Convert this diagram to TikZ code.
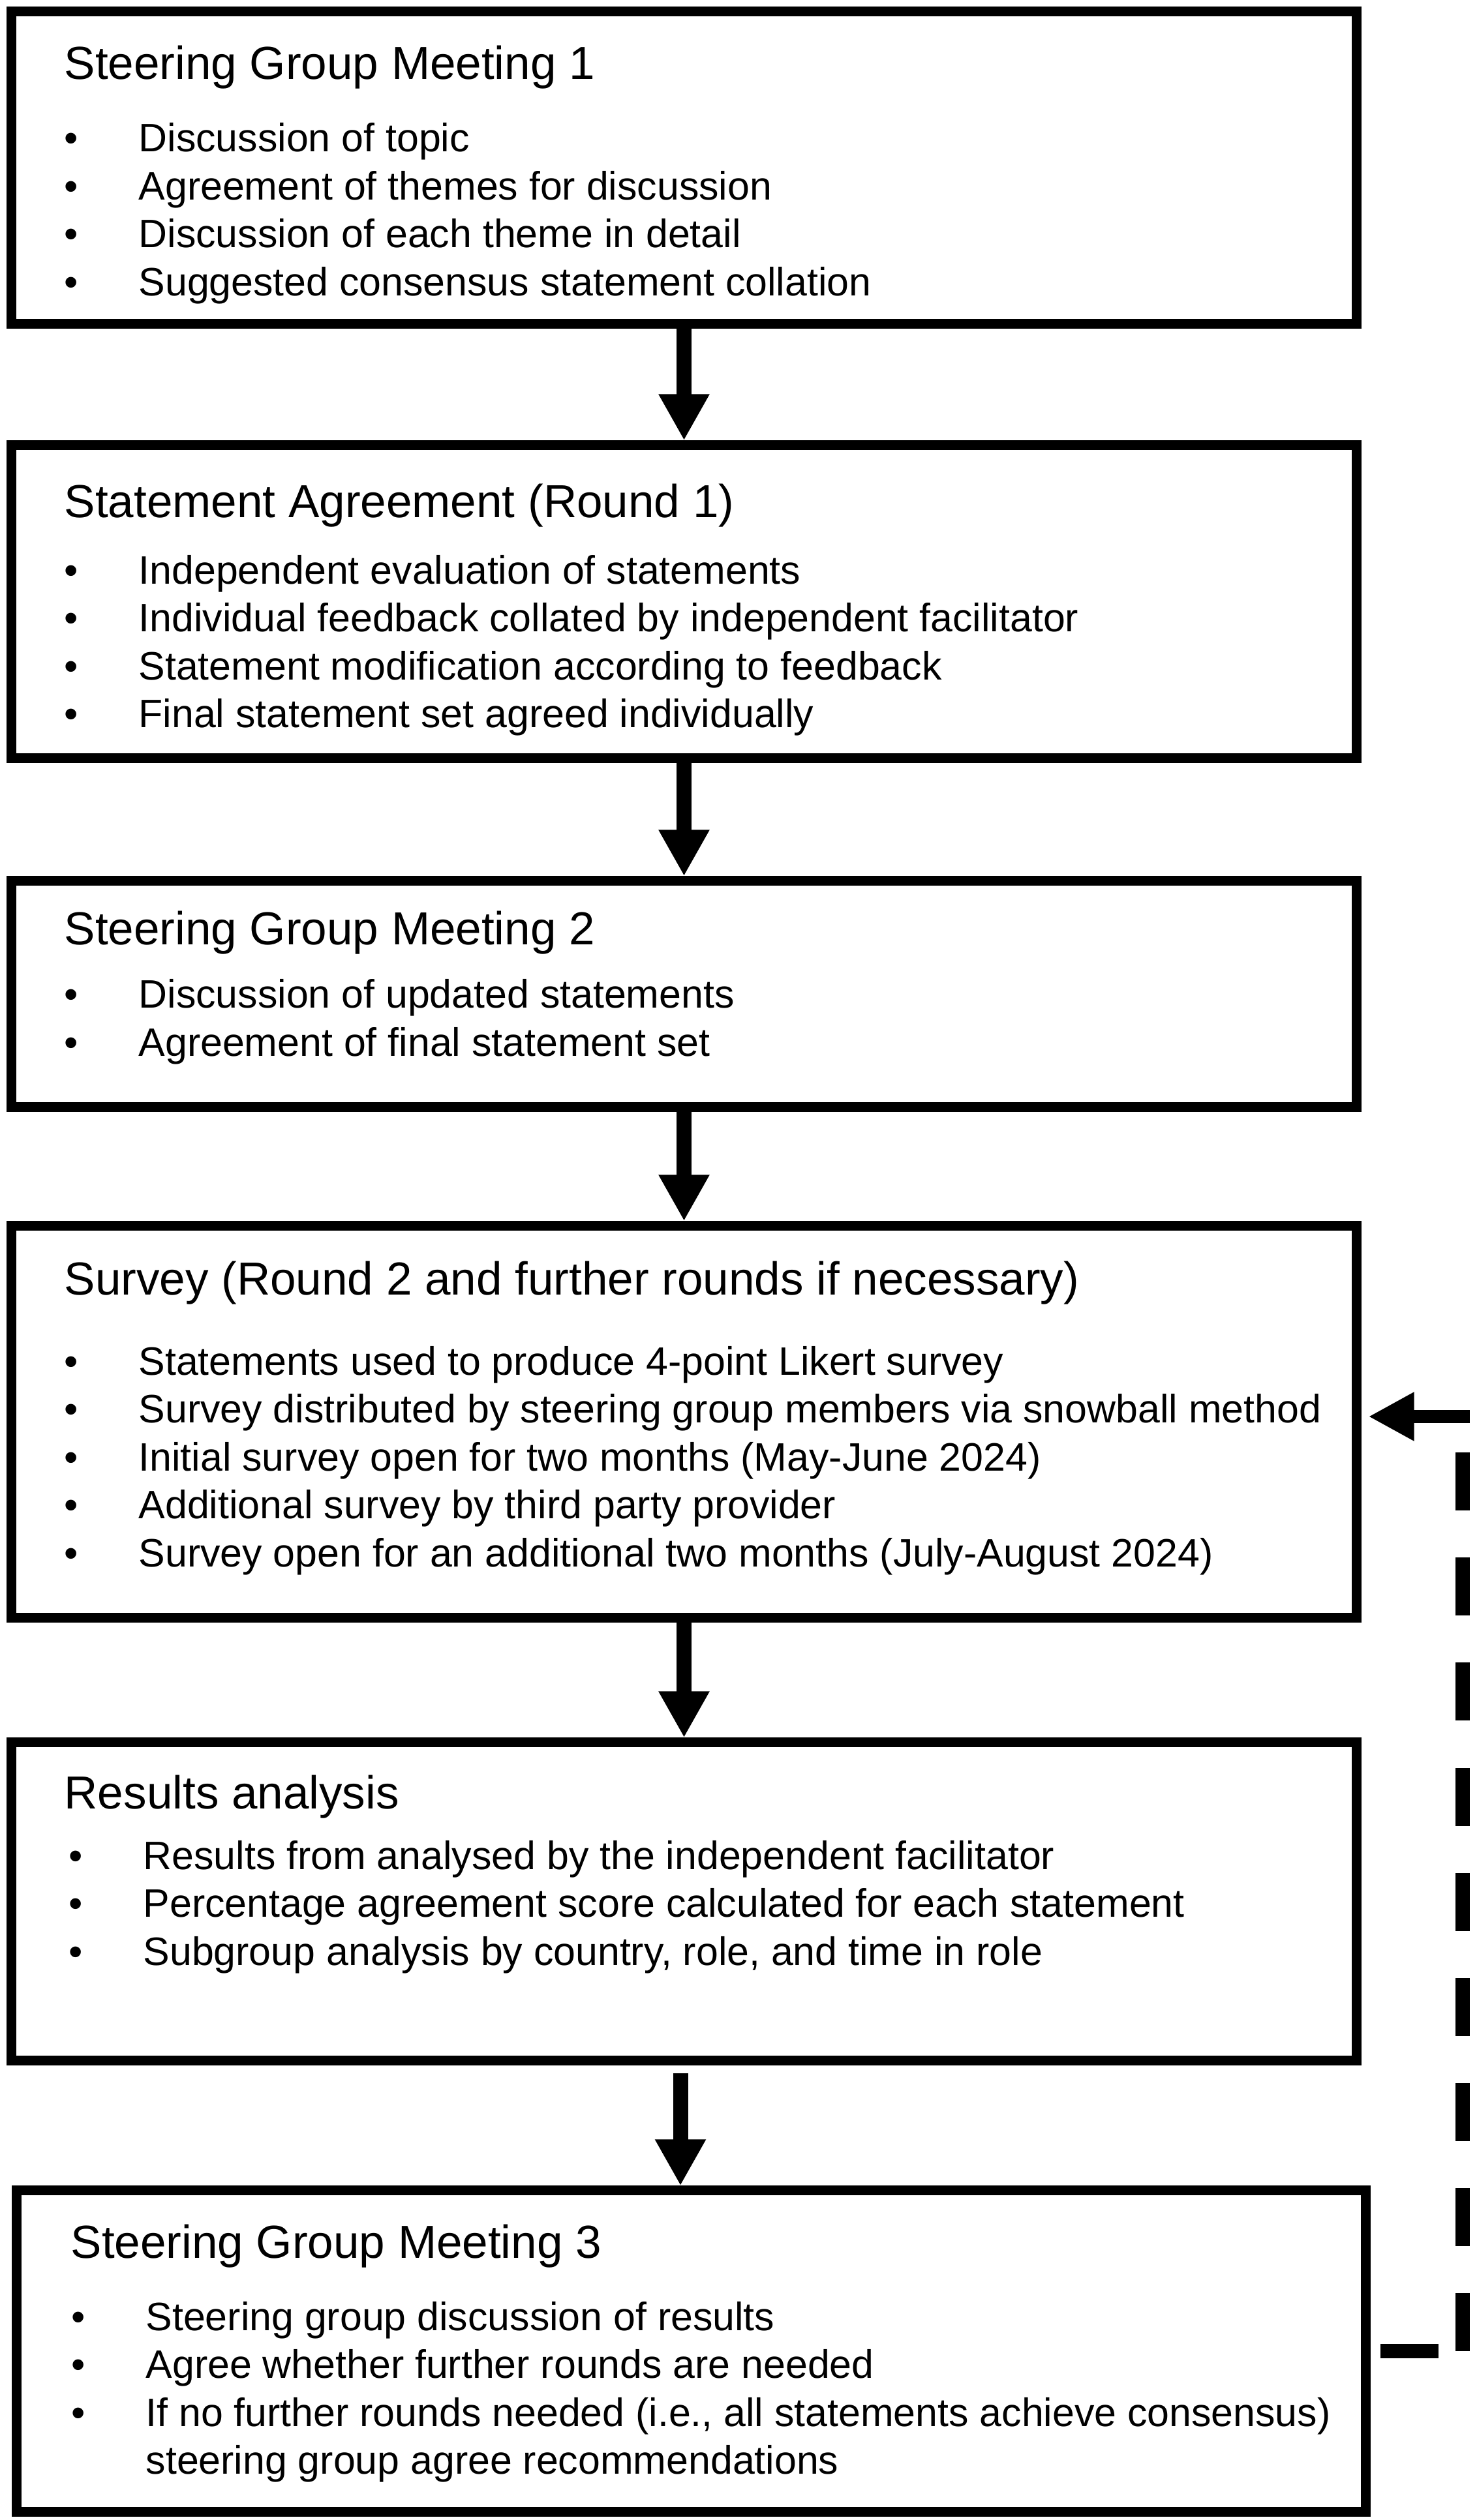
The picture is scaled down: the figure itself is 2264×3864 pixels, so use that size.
\documentclass[tikz,border=0pt]{standalone}
\usepackage{fontspec}
\setmainfont{Liberation Sans}
\usetikzlibrary{arrows.meta,positioning}

\newcommand{\ttl}{\fontsize{20.2pt}{24pt}\selectfont}
\newcommand{\itm}{\fontsize{17.3pt}{20.9pt}\selectfont}
\newcommand{\bul}{\llap{\makebox[1.14cm][l]{•}}}

\begin{document}
\begin{tikzpicture}[x=0.01cm,y=-0.01cm]
  % Styles
  \tikzstyle{stagebox}=[draw,line width=0.15cm,rectangle,inner sep=0pt]
  \tikzstyle{title text}=[anchor=base west,inner sep=0pt,font=\ttl]
  \tikzstyle{item text}=[anchor=base west,inner sep=0pt,font=\itm]
  \tikzstyle{flow arrow}=[line width=0.23cm,-{Triangle[width=0.73cm,length=0.71cm]}]
  \tikzstyle{loop line}=[line width=0.215cm,dash pattern=on 0.89cm off 0.72cm]
  \tikzstyle{loop arrow}=[line width=0.2cm,-{Triangle[width=0.7cm,length=0.7cm]}]

  % Page
  \fill[white] (0,0) rectangle (2264,3864);
  \useasboundingbox (0,0) rectangle (2264,3864);

  % Boxes
  \node[stagebox,minimum width=20.61cm,minimum height=4.795cm] (sgone) at (1048.5,257) {};
  \node[stagebox,minimum width=20.61cm,minimum height=4.79cm] (agree) at (1048.5,922.5) {};
  \node[stagebox,minimum width=20.61cm,minimum height=3.46cm] (sgtwo) at (1048.5,1524) {};
  \node[stagebox,minimum width=20.61cm,minimum height=6cm] (survey) at (1048.5,2180) {};
  \node[stagebox,minimum width=20.61cm,minimum height=4.87cm] (results) at (1048.5,2915.5) {};
  \node[stagebox,minimum width=20.67cm,minimum height=4.92cm] (sgthree) at (1059.5,3605) {};

  % Steering Group Meeting 1
  \node[title text] (sgonet) at (98,122) {Steering Group Meeting 1};
  \node[item text] (sgonea) at (212,233) {\bul Discussion of topic};
  \node[item text] (sgoneb) at (212,306.5) {\bul Agreement of themes for discussion};
  \node[item text] (sgonec) at (212,380) {\bul Discussion of each theme in detail};
  \node[item text] (sgoned) at (212,453.5) {\bul Suggested consensus statement collation};

  % Statement Agreement
  \node[title text] (agreet) at (98,793) {Statement Agreement (Round 1)};
  \node[item text] (agreea) at (212,895) {\bul Independent evaluation of statements};
  \node[item text] (agreeb) at (212,968.5) {\bul Individual feedback collated by independent facilitator};
  \node[item text] (agreec) at (212,1042) {\bul Statement modification according to feedback};
  \node[item text] (agreed) at (212,1115.5) {\bul Final statement set agreed individually};

  % Steering Group Meeting 2
  \node[title text] (sgtwot) at (98,1448) {Steering Group Meeting 2};
  \node[item text] (sgtwoa) at (212,1545) {\bul Discussion of updated statements};
  \node[item text] (sgtwob) at (212,1619) {\bul Agreement of final statement set};

  % Survey
  \node[title text] (surveyt) at (98,1985) {Survey (Round 2 and further rounds if necessary)};
  \node[item text] (surveya) at (212,2108) {\bul Statements used to produce 4-point Likert survey};
  \node[item text] (surveyb) at (212,2181.5) {\bul Survey distributed by steering group members via snowball method};
  \node[item text] (surveyc) at (212,2255) {\bul Initial survey open for two months (May-June 2024)};
  \node[item text] (surveyd) at (212,2328.5) {\bul Additional survey by third party provider};
  \node[item text] (surveye) at (212,2402) {\bul Survey open for an additional two months (July-August 2024)};

  % Results analysis
  \node[title text] (resultst) at (98,2773) {Results analysis};
  \node[item text] (resultsa) at (219,2866) {\bul Results from analysed by the independent facilitator};
  \node[item text] (resultsb) at (219,2939.5) {\bul Percentage agreement score calculated for each statement};
  \node[item text] (resultsc) at (219,3013) {\bul Subgroup analysis by country, role, and time in role};

  % Steering Group Meeting 3
  \node[title text] (sgthreet) at (108,3462) {Steering Group Meeting 3};
  \node[item text] (sgthreea) at (223,3573) {\bul Steering group discussion of results};
  \node[item text] (sgthreeb) at (223,3646.5) {\bul Agree whether further rounds are needed};
  \node[item text] (sgthreec) at (223,3720) {\bul If no further rounds needed (i.e., all statements achieve consensus)};
  \node[item text] (sgthreed) at (223,3793.5) {steering group agree recommendations};

  % Arrows
  \draw[flow arrow] (sgone) -- (agree);
  \draw[flow arrow] (agree) -- (sgtwo);
  \draw[flow arrow] (sgtwo) -- (survey);
  \draw[flow arrow] (survey) -- (results);
  \draw[flow arrow] ([xshift=-0.055cm,yshift=-0.12cm]results.south) -- ([xshift=-0.055cm]results.south |- sgthree.north);

  % Further rounds
  \coordinate (loopcorner) at (2242,3605);
  \coordinate (looptop) at (2242,2172);
  \coordinate (loopstart) at (2253,2172);
  \draw[loop line] ([xshift=0.15cm]sgthree.east) -- (loopcorner |- sgthree.east);
  \draw[loop line] (loopcorner) -- (looptop);
  \draw[loop arrow] (loopstart) -- ([xshift=0.105cm]survey.east |- looptop);

\end{tikzpicture}
\end{document}
